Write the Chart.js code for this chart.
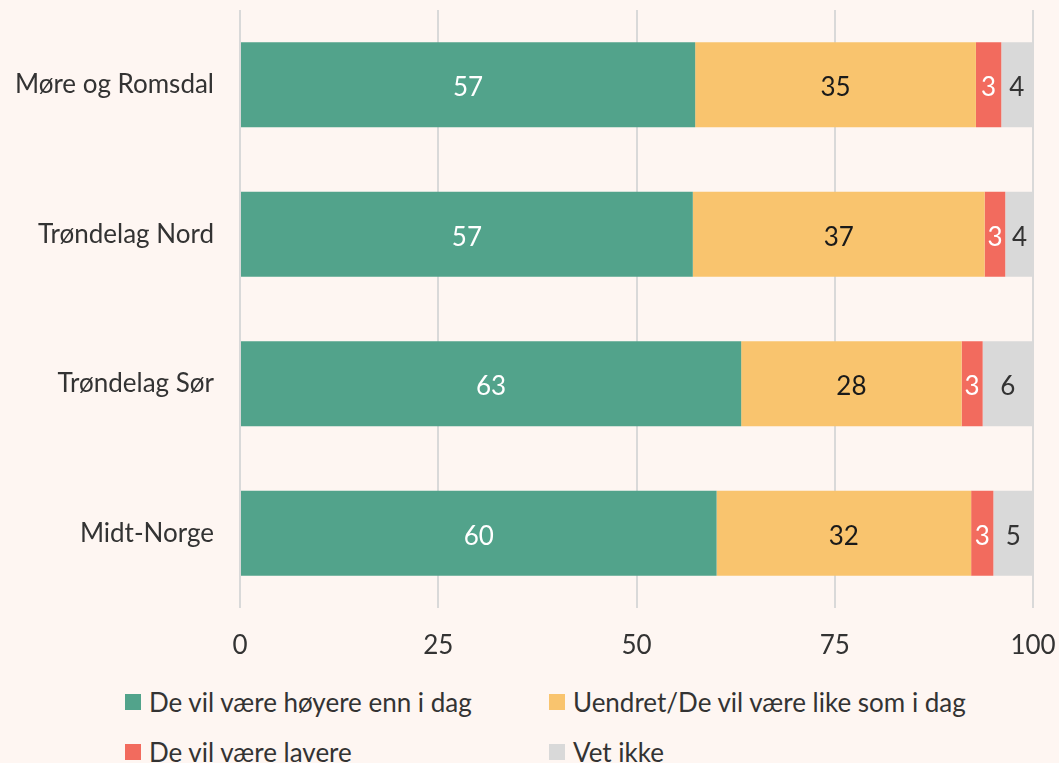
<!DOCTYPE html>
<html lang="no">
<head>
<meta charset="utf-8">
<title>Forventninger per region</title>
<script src="https://cdn.jsdelivr.net/npm/chart.js@4.4.1/dist/chart.umd.min.js"></script>
<style>
  html, body { margin: 0; padding: 0; background: #fef6f2; }
  body { width: 1059px; height: 763px; position: relative; overflow: hidden; font-family: Lato, sans-serif; }
  #wrap { position: absolute; left: 0; top: 0; width: 1059px; height: 670px; }
  #legend { position: absolute; left: 125px; top: 686px; display: grid;
            grid-template-columns: 424px 420px; grid-auto-rows: 50px; }
  .item { display: flex; align-items: center; height: 32px; font-size: 26px; color: #333; white-space: nowrap; }
  .swatch { width: 16px; height: 16px; margin-right: 8px; flex: none; }
</style>
</head>
<body>
<div id="wrap"><canvas id="chart"></canvas></div>
<div id="legend"></div>
<script>
// Regions and answer shares (per cent)
const regions = ['Møre og Romsdal', 'Trøndelag Nord', 'Trøndelag Sør', 'Midt-Norge'];
const higher = [57.4, 57.1, 63.2, 60.1];
const unchanged = [35.4, 36.8, 27.8, 32.1];
const lower = [3.2, 2.6, 2.65, 2.8];
const unknown = [3.9, 3.6, 6.35, 5.0];
const seriesNames = ['De vil være høyere enn i dag', 'Uendret/De vil være like som i dag', 'De vil være lavere', 'Vet ikke'];
const xTicks = [0, 25, 50, 75, 100];

const colors = ['#52a38b', '#f9c46e', '#f26b5e', '#d9d9d9'];
const labelColors = ['#ffffff', '#1a1a1a', '#ffffff', '#333333'];
const FONT = 'Lato, "Open Sans", sans-serif';

// draws the rounded value in the middle of each segment
const segmentLabels = {
    id: 'segmentLabels',
    afterDatasetsDraw(chart) {
        const ctx = chart.ctx;
        ctx.save();
        ctx.font = '26px ' + FONT;
        ctx.textAlign = 'center';
        ctx.textBaseline = 'middle';
        chart.data.datasets.forEach((ds, i) => {
            const meta = chart.getDatasetMeta(i);
            meta.data.forEach((bar, j) => {
                const cx = (bar.x + bar.base) / 2;
                ctx.fillStyle = labelColors[i];
                ctx.fillText(String(Math.round(ds.data[j])), cx, bar.y + 3);
            });
        });
        ctx.restore();
    }
};

const series = [higher, unchanged, lower, unknown];

const chart = new Chart(document.getElementById('chart'), {
    type: 'bar',
    data: {
        labels: regions,
        datasets: series.map((values, i) => ({
            label: seriesNames[i],
            data: values,
            backgroundColor: colors[i],
            borderWidth: 0,
            categoryPercentage: 1,
            barPercentage: 0.57
        }))
    },
    options: {
        indexAxis: 'y',
        responsive: true,
        maintainAspectRatio: false,
        animation: false,
        layout: { padding: { top: 10, right: 26, left: 0, bottom: 0 } },
        scales: {
            x: {
                stacked: true,
                min: 0,
                max: 100,
                afterBuildTicks(scale) { scale.ticks = xTicks.map(v => ({ value: v })); },
                afterFit(scale) {
                    scale.height = 62;
                    scale.paddingLeft = 0;
                    scale.paddingRight = 0;
                },
                ticks: { color: '#333', font: { family: FONT, size: 26 }, padding: 22 },
                grid: { color: '#d9d9d9', lineWidth: 2, drawTicks: false },
                border: { display: false }
            },
            y: {
                stacked: true,
                afterFit(scale) {
                    scale.width = 240;
                    scale.paddingTop = 0;
                    scale.paddingBottom = 0;
                },
                ticks: { color: '#333', font: { family: FONT, size: 26 }, padding: 18 },
                grid: { display: false },
                border: { display: false }
            }
        },
        plugins: {
            legend: { display: false },
            tooltip: { enabled: false }
        }
    },
    plugins: [segmentLabels]
});

// legend in two columns below the chart
const legendEl = document.getElementById('legend');
chart.data.datasets.forEach(ds => {
    const item = document.createElement('div');
    item.className = 'item';
    const sw = document.createElement('span');
    sw.className = 'swatch';
    sw.style.background = ds.backgroundColor;
    const txt = document.createElement('span');
    txt.textContent = ds.label;
    item.appendChild(sw);
    item.appendChild(txt);
    legendEl.appendChild(item);
});
</script>
</body>
</html>
